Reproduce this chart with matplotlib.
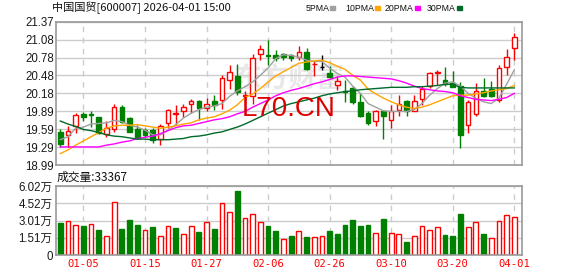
import numpy as np
import matplotlib
matplotlib.use("Agg")
import matplotlib.pyplot as plt
from matplotlib.patches import Rectangle

# daily candles, 60 trading days up to 2026-04-01
opens = [19.53, 19.48, 19.64, 19.84, 19.83, 19.78, 19.50, 19.59, 19.95, 19.77,
         19.59, 19.57, 19.57, 19.42, 19.68, 19.83, 19.88, 20.00, 20.05, 19.94,
         20.05, 20.07, 20.41, 20.47, 20.13, 20.13, 20.83, 20.81, 20.82, 20.84,
         20.81, 20.79, 20.86, 20.66, 20.61, 20.51, 20.32, 20.22, 20.27, 20.04,
         19.86, 19.72, 19.88, 19.74, 19.91, 20.05, 19.89, 20.08, 20.30, 20.52,
         20.40, 20.35, 20.30, 19.65, 19.83, 20.22, 20.26, 20.07, 20.61, 20.93]
closes = [19.34, 19.56, 19.82, 19.78, 19.82, 19.52, 19.61, 19.95, 19.70, 19.54,
          19.44, 19.48, 19.41, 19.64, 19.90, 19.86, 19.95, 20.06, 19.94, 20.00,
          19.99, 20.43, 20.53, 20.21, 20.15, 20.77, 20.92, 20.80, 20.76, 20.79,
          20.76, 20.86, 20.58, 20.67, 20.61, 20.45, 20.39, 20.20, 20.04, 19.80,
          19.68, 19.88, 19.80, 19.89, 20.00, 19.89, 20.06, 20.25, 20.51, 20.53,
          20.34, 20.29, 19.49, 20.03, 20.22, 20.14, 20.14, 20.60, 20.79, 21.11]
highs = [19.58, 19.63, 19.86, 19.87, 19.89, 19.79, 19.72, 20.01, 19.98, 19.78,
         19.65, 19.60, 19.60, 19.67, 19.92, 19.99, 20.00, 20.09, 20.07, 20.10,
         20.15, 20.48, 20.65, 20.66, 20.22, 20.83, 20.99, 21.07, 20.90, 20.85,
         20.83, 20.97, 20.94, 20.71, 20.81, 20.63, 20.47, 20.40, 20.30, 20.18,
         19.88, 19.90, 19.90, 19.99, 20.15, 20.07, 20.15, 20.30, 20.54, 20.57,
         20.62, 20.55, 20.37, 20.07, 20.36, 20.43, 20.39, 20.65, 20.92, 21.18]
lows = [19.29, 19.29, 19.52, 19.72, 19.62, 19.50, 19.46, 19.54, 19.68, 19.53,
        19.43, 19.46, 19.36, 19.33, 19.60, 19.65, 19.79, 19.85, 19.74, 19.88,
        19.91, 19.92, 20.26, 20.15, 20.04, 20.01, 20.73, 20.65, 20.71, 20.73,
        20.71, 20.73, 20.57, 20.46, 20.57, 20.43, 20.24, 20.03, 20.00, 19.79,
        19.66, 19.64, 19.42, 19.60, 19.81, 19.81, 19.88, 19.99, 20.27, 20.32,
        20.30, 20.29, 19.28, 19.52, 19.81, 20.12, 20.12, 20.03, 20.48, 20.74]

# moving averages as drawn on the chart
ma5 = [19.41, 19.46, 19.60, 19.62, 19.67, 19.68, 19.69, 19.73, 19.71, 19.65,
       19.62, 19.57, 19.49, 19.49, 19.57, 19.66, 19.77, 19.85, 19.91, 19.95,
       19.97, 20.01, 20.13, 20.22, 20.29, 20.37, 20.48, 20.60, 20.76, 20.82,
       20.81, 20.78, 20.73, 20.71, 20.71, 20.60, 20.51, 20.45, 20.30, 20.18,
       20.01, 19.95, 19.89, 19.88, 19.88, 19.88, 19.91, 20.01, 20.15, 20.26,
       20.35, 20.37, 20.30, 20.18, 20.10, 20.04, 20.01, 20.10, 20.33, 20.57]
ma10 = [19.18, 19.24, 19.32, 19.39, 19.46, 19.53, 19.60, 19.64, 19.65, 19.65,
        19.66, 19.64, 19.62, 19.60, 19.62, 19.64, 19.67, 19.69, 19.74, 19.77,
        19.79, 19.84, 19.90, 19.99, 20.11, 20.17, 20.26, 20.37, 20.47, 20.54,
        20.61, 20.68, 20.70, 20.72, 20.73, 20.69, 20.63, 20.58, 20.48, 20.40,
        20.25, 20.17, 20.10, 20.04, 19.99, 19.95, 19.93, 19.95, 19.99, 20.04,
        20.09, 20.14, 20.15, 20.15, 20.17, 20.19, 20.22, 20.24, 20.26, 20.31]
ma20 = [19.29, 19.29, 19.29, 19.29, 19.29, 19.29, 19.32, 19.34, 19.37, 19.39,
        19.43, 19.45, 19.47, 19.51, 19.56, 19.61, 19.64, 19.65, 19.68, 19.71,
        19.74, 19.76, 19.79, 19.84, 19.88, 19.95, 20.01, 20.07, 20.14, 20.19,
        20.23, 20.26, 20.30, 20.34, 20.37, 20.41, 20.45, 20.47, 20.47, 20.46,
        20.45, 20.44, 20.43, 20.42, 20.39, 20.35, 20.30, 20.26, 20.24, 20.22,
        20.21, 20.19, 20.14, 20.11, 20.08, 20.07, 20.06, 20.08, 20.11, 20.18]
ma30 = [19.72, 19.67, 19.63, 19.58, 19.56, 19.53, 19.49, 19.47, 19.46, 19.44,
        19.42, 19.42, 19.41, 19.41, 19.41, 19.42, 19.43, 19.46, 19.47, 19.49,
        19.52, 19.54, 19.58, 19.62, 19.67, 19.73, 19.79, 19.85, 19.91, 19.97,
        20.01, 20.04, 20.07, 20.10, 20.14, 20.17, 20.19, 20.21, 20.22, 20.24,
        20.25, 20.26, 20.27, 20.28, 20.28, 20.28, 20.29, 20.29, 20.30, 20.31,
        20.33, 20.33, 20.28, 20.27, 20.27, 20.27, 20.27, 20.27, 20.27, 20.27]

# volume in 万 shares, and whether the bar is an up (red) day
volume = [2.82, 2.94, 2.62, 2.53, 2.70, 2.18, 1.63, 4.59, 2.27, 3.05,
          2.62, 2.18, 2.44, 1.63, 2.50, 2.36, 1.83, 2.50, 2.01, 2.85,
          2.27, 4.51, 3.72, 5.58, 3.20, 3.55, 2.85, 2.53, 2.09, 1.40,
          1.66, 2.06, 1.57, 1.54, 1.63, 2.09, 1.83, 2.62, 3.05, 2.53,
          2.62, 1.92, 3.14, 1.92, 1.80, 1.13, 1.63, 2.50, 2.15, 2.41,
          1.74, 1.66, 3.61, 2.41, 2.85, 1.83, 1.45, 2.94, 3.46, 3.34]
vol_up = [0, 1, 1, 0, 1, 0, 1, 1, 0, 0, 0, 1, 0, 1, 1, 0, 1, 1, 0, 1,
          0, 1, 1, 0, 1, 1, 1, 0, 0, 1, 0, 1, 0, 1, 1, 0, 0, 0, 0, 0,
          0, 1, 0, 1, 1, 0, 1, 1, 1, 1, 0, 0, 0, 1, 1, 0, 1, 1, 1, 1]

date_pos = [3, 11, 19, 27, 35, 43, 51, 59]
date_labels = ["01-05", "01-15", "01-27", "02-06", "02-26", "03-10", "03-20", "04-01"]
price_ticks = [18.99, 19.2875, 19.585, 19.8825, 20.18, 20.4775, 20.775, 21.0725, 21.37]
price_labels = ["18.99", "19.29", "19.59", "19.89", "20.18", "20.48", "20.78", "21.08", "21.37"]
vol_ticks = [0, 1.505, 3.01, 4.515, 6.02]
vol_labels = ["0", "1.51万", "3.01万", "4.52万", "6.02万"]

RED = "#ff0000"
GREEN = "#008000"
GRID = "#cccccc"
FRAME = "#999999"
W, H = 578, 276

fig = plt.figure(figsize=(W / 100, H / 100), dpi=100)
ax1 = fig.add_axes([56 / W, 1 - 165 / H, 466 / W, 143.3 / H])
ax2 = fig.add_axes([56 / W, 1 - 255 / H, 466 / W, 69 / H])

x = np.arange(len(closes))
o = np.array(opens)
c = np.array(closes)

# candles
cols = []
for oi, ci in zip(o, c):
    if ci > oi:
        cols.append(RED)
    elif ci < oi:
        cols.append(GREEN)
    else:
        cols.append("black")
face = ["white" if col == RED else col for col in cols]
ax1.vlines(x, lows, highs, colors=cols, lw=1, zorder=2)
body = np.maximum(np.abs(c - o), 0.004)
ax1.bar(x, body, bottom=np.minimum(o, c), width=0.6, color=face,
        edgecolor=cols, linewidth=1, zorder=2.5)

ax1.plot(x, ma5, color="#a0a0a0", lw=1, zorder=3)
ax1.plot(x, ma10, color="#ffa500", lw=1, zorder=3)
ax1.plot(x, ma20, color="#ff00ff", lw=1, zorder=3)
ax1.plot(x, ma30, color="#006a2a", lw=1, zorder=3)

# volume bars
vcol = [RED if u else GREEN for u in vol_up]
vface = ["white" if u else GREEN for u in vol_up]
ax2.bar(x, volume, width=0.62, color=vface, edgecolor=vcol, linewidth=1, zorder=2)

for ax in (ax1, ax2):
    ax.set_xlim(-0.56, 60.0)
    ax.set_xticks(date_pos)
    ax.grid(axis="y", color=GRID, lw=1, zorder=0)
    ax.grid(axis="x", color=GRID, lw=1, ls=(0, (4, 4)), zorder=0)
    for sp in ax.spines.values():
        sp.set_color(FRAME)
        sp.set_linewidth(1.2)
    ax.tick_params(length=0)

ax1.set_ylim(18.99, 21.37)
ax1.set_yticks(price_ticks)
ax1.set_yticklabels(price_labels, fontsize=8.3, family="Liberation Sans", color="#1a1a1a")
ax1.tick_params(axis="y", pad=1.5)
ax1.tick_params(axis="x", labelbottom=False)

ax2.set_ylim(0, 6.02)
ax2.set_yticks(vol_ticks)
ax2.set_yticklabels(vol_labels, fontsize=8.3, family=["Liberation Sans", "Noto Sans CJK SC"],
                    color="#1a1a1a")
ax2.tick_params(axis="y", pad=2.5)
ax2.set_xticklabels(date_labels, fontsize=7.6, family="DejaVu Sans Mono", color=RED)
ax2.tick_params(axis="x", pad=3)

# watermarks
ax1.text(0.5, 0.6, "东方财富", transform=ax1.transAxes, fontsize=20, color="#e8e8e8",
         family="Noto Sans CJK SC", weight="bold", ha="center", va="center", zorder=1)
ax1.text(0.5, 0.39, "L70.CN", transform=ax1.transAxes, fontsize=20, color="#dd0000",
         family="Liberation Sans", ha="center", va="center", zorder=4)

# header
fig.text(52 / W, 1 - 8 / H, "中国国贸[600007] 2026-04-01 15:00", fontsize=8,
         family=["Noto Sans CJK SC", "DejaVu Sans"], va="center", ha="left", color="#111111")
legend = [("5PMA", "#a0a0a0", 306), ("10PMA", "#ffa500", 345),
          ("20PMA", "#ff00ff", 385), ("30PMA", "#006a2a", 427)]
for name, col, px in legend:
    fig.text(px / W, 1 - 8.5 / H, name, fontsize=6.3, family="Liberation Sans",
             va="center", ha="left", color="#111111")
    sx = px + (24 if len(name) == 4 else 30)
    fig.add_artist(Rectangle((sx / W, 1 - 10 / H), 5 / W, 4 / H,
                             transform=fig.transFigure, color=col))

fig.text(57 / W, 1 - 177 / H, "成交量:33367", fontsize=8.5,
         family=["Noto Sans CJK SC", "DejaVu Sans"], va="center", ha="left", color="#111111")

fig.savefig("out.png", dpi=100)
